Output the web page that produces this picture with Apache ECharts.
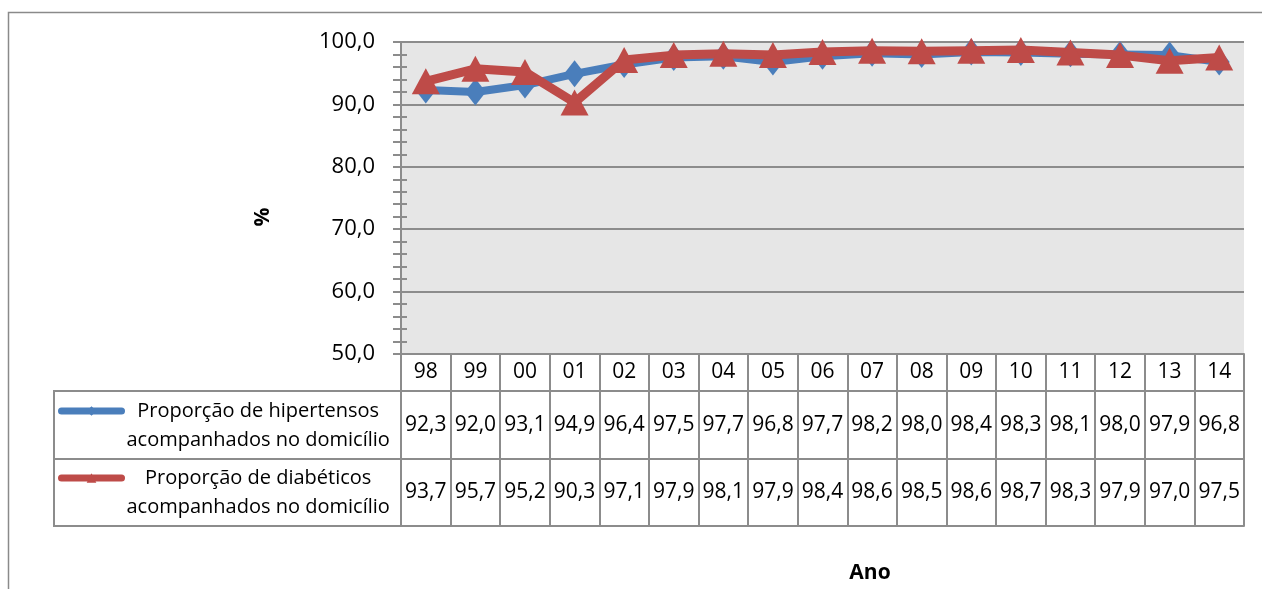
<!DOCTYPE html>
<html>
<head>
<meta charset="utf-8">
<script src="https://cdn.jsdelivr.net/npm/echarts@6/dist/echarts.min.js"></script>
<style>
  html, body { margin: 0; padding: 0; background: #ffffff; }
  #chart { width: 1262px; height: 589px; }
</style>
</head>
<body>
<div id="chart"></div>
<script>
// Years (two-digit) shown in the header row of the data table
const anos = ['98', '99', '00', '01', '02', '03', '04', '05', '06', '07', '08', '09', '10', '11', '12', '13', '14'];

// Proportion (%) of hypertensive patients followed up at home
const hipertensos = [92.3, 92.0, 93.1, 94.9, 96.4, 97.5, 97.7, 96.8, 97.7, 98.2, 98.0, 98.4, 98.3, 98.1, 98.0, 97.9, 96.8];

// Proportion (%) of diabetic patients followed up at home
const diabeticos = [93.7, 95.7, 95.2, 90.3, 97.1, 97.9, 98.1, 97.9, 98.4, 98.6, 98.5, 98.6, 98.7, 98.3, 97.9, 97.0, 97.5];

const nomeHip = 'Proporção de hipertensos\nacompanhados no domicílio';
const nomeDia = 'Proporção de diabéticos\nacompanhados no domicílio';

const FONT = '"Open Sans", "Liberation Sans", sans-serif';
const GRID_COLOR = '#8c8c8c';
const BLUE = '#4a7ebb';
const RED = '#be4b48';

const fmt = v => v.toFixed(1).replace('.', ',');

// Two-line legend label preceded by an empty line, so the legend icon
// (centred on the text block) sits level with the first visible line.
function legendLabel(name) {
  const lines = name.split('\n');
  return '{e|}\n{a|' + lines[0] + '}\n{a|' + lines[1] + '}';
}

const legendText = {
  fontFamily: FONT,
  fontSize: 20,
  lineHeight: 29,
  color: '#000',
  rich: {
    e: { fontFamily: FONT, fontSize: 20, lineHeight: 29, color: '#000' },
    a: { fontFamily: FONT, fontSize: 20, lineHeight: 29, color: '#000', align: 'center' }
  }
};

const chart = echarts.init(document.getElementById('chart'), null, { renderer: 'canvas' });

// Data-table row boundaries (px): header row, then one row per series
const ROW_TOP = 354, ROW1 = 391, ROW2 = 459, ROW_END = 526;
const TABLE_LEFT = 54, PLOT_LEFT = 401;

function tableAxis(labels, offset, height, showLabels) {
  return {
    type: 'category',
    position: 'bottom',
    gridIndex: 0,
    offset: offset,
    data: labels,
    boundaryGap: true,
    axisLine: { show: true, lineStyle: { color: GRID_COLOR, width: 2 } },
    axisTick: { show: height > 0, interval: 0, length: height, lineStyle: { color: GRID_COLOR, width: 2 } },
    axisLabel: {
      show: showLabels,
      interval: 0,
      margin: height / 2,
      verticalAlign: 'middle',
      fontFamily: FONT,
      fontSize: 21,
      color: '#000'
    },
    splitLine: { show: false }
  };
}

function legendFor(name, top) {
  return {
    data: [name],
    left: 58,
    top: top,
    padding: 0,
    itemWidth: 60,
    itemHeight: 12,
    lineStyle: { width: 7 },
    formatter: legendLabel,
    textStyle: legendText,
    selectedMode: false
  };
}

const option = {
  backgroundColor: '#ffffff',
  animation: false,
  grid: {
    left: PLOT_LEFT,
    right: 18,
    top: 42,
    bottom: 589 - ROW_TOP,
    show: true,
    backgroundColor: '#e6e6e6',
    borderWidth: 0,
    outerBoundsMode: 'none'
  },
  legend: [
    legendFor(nomeHip, 411 - 43.5),
    legendFor(nomeDia, 478 - 43.5)
  ],
  xAxis: [
    tableAxis(anos, 0, ROW1 - ROW_TOP, true),
    tableAxis(hipertensos.map(fmt), ROW1 - ROW_TOP, ROW2 - ROW1, true),
    tableAxis(diabeticos.map(fmt), ROW2 - ROW_TOP, ROW_END - ROW2, true),
    tableAxis(anos, ROW_END - ROW_TOP, 0, false)
  ],
  yAxis: [
    {
      type: 'value',
      position: 'left',
      min: 50,
      max: 100,
      interval: 10,
      axisLine: { show: true, lineStyle: { color: GRID_COLOR, width: 2 } },
      axisTick: { show: true, length: 8, lineStyle: { color: GRID_COLOR, width: 2 } },
      minorTick: { show: true, splitNumber: 5, length: 8, lineStyle: { color: GRID_COLOR, width: 2 } },
      axisLabel: { margin: 26, formatter: fmt, fontFamily: FONT, fontSize: 22, color: '#000' },
      splitLine: { show: true, lineStyle: { color: GRID_COLOR, width: 2 } }
    },
    {
      // inner half of the crossing minor ticks
      type: 'value',
      position: 'left',
      offset: 0,
      min: 50,
      max: 100,
      interval: 10,
      axisLine: { show: false },
      axisTick: { show: false, inside: true },
      minorTick: { show: true, splitNumber: 5, length: 6, lineStyle: { color: GRID_COLOR, width: 2 } },
      axisLabel: { show: false },
      splitLine: { show: false }
    }
  ],
  series: [
    {
      name: nomeHip,
      type: 'line',
      data: hipertensos,
      xAxisIndex: 0,
      yAxisIndex: 0,
      symbol: 'diamond',
      symbolSize: [21, 27],
      showAllSymbol: true,
      color: BLUE,
      lineStyle: { color: BLUE, width: 8, cap: 'round', join: 'round' },
      itemStyle: { color: BLUE },
      z: 3
    },
    {
      name: nomeDia,
      type: 'line',
      data: diabeticos,
      xAxisIndex: 0,
      yAxisIndex: 0,
      symbol: 'triangle',
      symbolSize: [28, 26],
      showAllSymbol: true,
      color: RED,
      lineStyle: { color: RED, width: 9, cap: 'round', join: 'round' },
      itemStyle: { color: RED },
      z: 4
    }
  ],
  graphic: [
    // outer chart frame (top and left edges visible)
    { type: 'polyline', silent: true, shape: { points: [[8.5, 600], [8.5, 12.5], [1270, 12.5]] },
      style: { stroke: '#8a8a8a', lineWidth: 1.5, fill: null } },
    // legend column of the data table
    { type: 'line', silent: true, shape: { x1: TABLE_LEFT, y1: ROW1, x2: PLOT_LEFT, y2: ROW1 }, style: { stroke: GRID_COLOR, lineWidth: 2 } },
    { type: 'line', silent: true, shape: { x1: TABLE_LEFT, y1: ROW2, x2: PLOT_LEFT, y2: ROW2 }, style: { stroke: GRID_COLOR, lineWidth: 2 } },
    { type: 'line', silent: true, shape: { x1: TABLE_LEFT, y1: ROW_END, x2: PLOT_LEFT, y2: ROW_END }, style: { stroke: GRID_COLOR, lineWidth: 2 } },
    { type: 'line', silent: true, shape: { x1: TABLE_LEFT, y1: ROW1 - 1, x2: TABLE_LEFT, y2: ROW_END + 1 }, style: { stroke: GRID_COLOR, lineWidth: 2 } },
    // y-axis title
    { type: 'text', silent: true, x: 263, y: 217, rotation: Math.PI / 2,
      style: { text: '%', fontFamily: FONT, fontSize: 21, fontWeight: 'bold', fill: '#000', align: 'center', verticalAlign: 'middle' } },
    // x-axis title
    { type: 'text', silent: true, x: 870, y: 573,
      style: { text: 'Ano', fontFamily: FONT, fontSize: 21, fontWeight: 'bold', fill: '#000', align: 'center', verticalAlign: 'middle' } }
  ]
};

chart.setOption(option);
</script>
</body>
</html>
